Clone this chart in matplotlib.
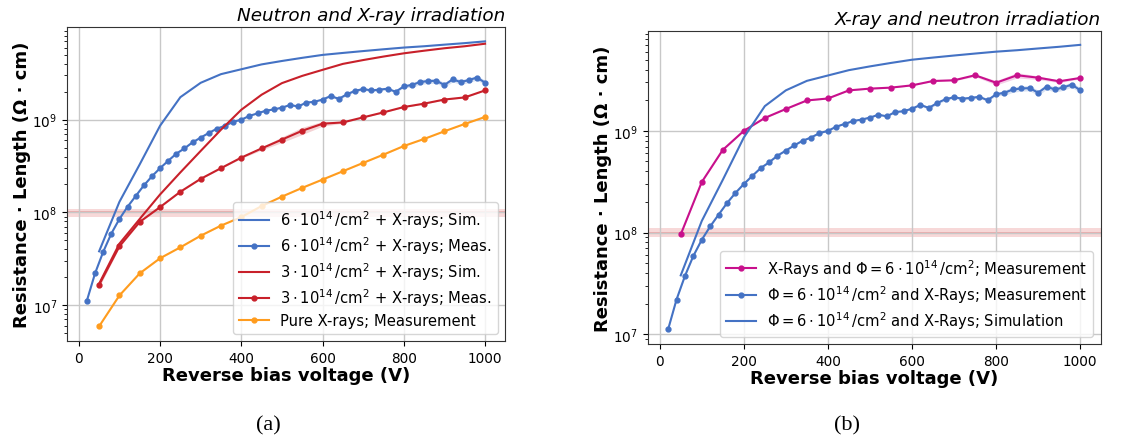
"""Resistance * length vs. reverse bias voltage, two panels"""
import numpy as np
import matplotlib
matplotlib.use("Agg")
import matplotlib.pyplot as plt

plt.rcParams["font.family"] = ["DejaVu Sans"]

# --- data ---------------------------------------------------------------
v_sim = [50, 100, 150, 200, 250, 300, 350, 400, 450, 500, 550, 600, 650, 700,
         750, 800, 850, 900, 950, 1000]
r_sim_6e14 = [3.8e7, 1.3e8, 3.3e8, 8.6e8, 1.75e9, 2.5e9, 3.1e9, 3.5e9, 3.95e9,
              4.3e9, 4.65e9, 5.0e9, 5.25e9, 5.5e9, 5.75e9, 6.0e9, 6.2e9, 6.45e9,
              6.7e9, 7.0e9]
r_sim_3e14 = [1.7e7, 4.6e7, 8.5e7, 1.56e8, 2.7e8, 4.6e8, 7.8e8, 1.28e9, 1.86e9,
              2.48e9, 2.97e9, 3.45e9, 4.0e9, 4.4e9, 4.8e9, 5.2e9, 5.55e9, 5.9e9,
              6.2e9, 6.6e9]

v_meas_6e14 = list(range(20, 1001, 20))
r_meas_6e14 = [1.12e7, 2.2e7, 3.75e7, 5.9e7, 8.5e7, 1.15e8, 1.5e8, 1.95e8, 2.45e8,
               3.0e8, 3.6e8, 4.3e8, 4.9e8, 5.7e8, 6.4e8, 7.2e8, 8.0e8, 8.6e8,
               9.5e8, 1.0e9, 1.1e9, 1.17e9, 1.25e9, 1.29e9, 1.35e9, 1.44e9,
               1.39e9, 1.53e9, 1.56e9, 1.65e9, 1.8e9, 1.68e9, 1.88e9, 2.05e9,
               2.14e9, 2.07e9, 2.11e9, 2.16e9, 2.0e9, 2.29e9, 2.37e9, 2.55e9,
               2.61e9, 2.63e9, 2.37e9, 2.72e9, 2.55e9, 2.67e9, 2.85e9, 2.51e9]
err_meas_6e14 = [0.01] * 30 + [0.03] * 10 + [0.06] * 10  # relative

v_meas_50 = list(range(50, 1001, 50))
r_meas_3e14 = [1.65e7, 4.3e7, 7.9e7, 1.14e8, 1.67e8, 2.3e8, 3.0e8, 3.9e8, 4.9e8,
               6.1e8, 7.6e8, 9.05e8, 9.35e8, 1.06e9, 1.2e9, 1.37e9, 1.49e9,
               1.65e9, 1.74e9, 2.07e9]
err_meas_3e14 = [0.06, 0.02, 0.02, 0.01, 0.01, 0.01, 0.01, 0.02, 0.04, 0.07,
                 0.09, 0.06, 0.02, 0.01, 0.01, 0.01, 0.01, 0.01, 0.01, 0.01]
r_pure_xray = [5.9e6, 1.27e7, 2.2e7, 3.2e7, 4.2e7, 5.6e7, 7.2e7, 8.9e7, 1.17e8,
               1.48e8, 1.84e8, 2.26e8, 2.78e8, 3.42e8, 4.2e8, 5.2e8, 6.2e8,
               7.5e8, 9.0e8, 1.07e9]
r_xray_then_n = [9.6e7, 3.14e8, 6.5e8, 1.0e9, 1.34e9, 1.64e9, 1.99e9, 2.08e9,
                 2.5e9, 2.6e9, 2.66e9, 2.8e9, 3.09e9, 3.14e9, 3.52e9, 2.97e9,
                 3.52e9, 3.33e9, 3.07e9, 3.31e9]
err_xray_then_n = [0.01] * 14 + [0.03, 0.05, 0.06, 0.04, 0.03, 0.02]

threshold = 1e8
threshold_band = (0.9e8, 1.1e8)

BLUE = "#4472c4"
RED = "#c8202a"
ORANGE = "#ff9c1e"
MAGENTA = "#c8108c"
MS = 3.5
LW = 1.5


def meas(ax, x, y, err, color, label):
    x = np.array(x)
    y = np.array(y)
    e = np.array(err)
    ax.fill_between(x, y * (1 - e), y * (1 + e), color=color, alpha=0.2, lw=0)
    ax.plot(x, y, "o-", color=color, ms=MS, lw=LW, label=label)


def style(ax, title):
    ax.set_yscale("log")
    ax.axhspan(*threshold_band, color="#d62728", alpha=0.18, lw=0, zorder=0)
    ax.axhline(threshold, color="#d62728", alpha=0.3, lw=1.2, zorder=0)
    ax.grid(True, which="major", color="#c8c8c8", lw=1)
    ax.set_axisbelow(True)
    ax.set_title(title, loc="right", style="italic", fontsize=13.2, pad=5)
    ax.set_xlabel("Reverse bias voltage (V)", fontsize=13, fontweight="bold", labelpad=1)
    ax.set_ylabel("Resistance · Length (Ω · cm)", fontsize=13, fontweight="bold", labelpad=1)
    ax.tick_params(labelsize=9.8)
    for s in ax.spines.values():
        s.set_color("#333333")
    ax.legend(loc="lower right", fontsize=10.6, labelspacing=0.3)


fig = plt.figure(figsize=(11.36, 4.39), dpi=100)
ax1 = fig.add_axes([0.059, 0.221, 0.3855, 0.715])
ax2 = fig.add_axes([0.570, 0.214, 0.399, 0.714])

# (a)
ax1.plot(v_sim, r_sim_6e14, color=BLUE, lw=LW, label=r"$6\cdot10^{14}\,/\mathrm{cm}^2$ + X-rays; Sim.")
meas(ax1, v_meas_6e14, r_meas_6e14, err_meas_6e14, BLUE, r"$6\cdot10^{14}\,/\mathrm{cm}^2$ + X-rays; Meas.")
ax1.plot(v_sim, r_sim_3e14, color=RED, lw=LW, label=r"$3\cdot10^{14}\,/\mathrm{cm}^2$ + X-rays; Sim.")
meas(ax1, v_meas_50, r_meas_3e14, err_meas_3e14, RED, r"$3\cdot10^{14}\,/\mathrm{cm}^2$ + X-rays; Meas.")
meas(ax1, v_meas_50, r_pure_xray, [0.01] * len(r_pure_xray), ORANGE, "Pure X-rays; Measurement")
style(ax1, "Neutron and X-ray irradiation")

# (b)
meas(ax2, v_meas_50, r_xray_then_n, err_xray_then_n, MAGENTA,
     r"X-Rays and $\Phi = 6\cdot10^{14}\,/\mathrm{cm}^2$; Measurement")
meas(ax2, v_meas_6e14, r_meas_6e14, err_meas_6e14, BLUE,
     r"$\Phi = 6\cdot10^{14}\,/\mathrm{cm}^2$ and X-Rays; Measurement")
ax2.plot(v_sim, r_sim_6e14, color=BLUE, lw=LW,
         label=r"$\Phi = 6\cdot10^{14}\,/\mathrm{cm}^2$ and X-Rays; Simulation")
style(ax2, "X-ray and neutron irradiation")

fig.text(0.236, 0.02, "(a)", family="Liberation Serif", fontsize=16, ha="center")
fig.text(0.746, 0.02, "(b)", family="Liberation Serif", fontsize=16, ha="center")

fig.savefig("out.png", dpi=100)
